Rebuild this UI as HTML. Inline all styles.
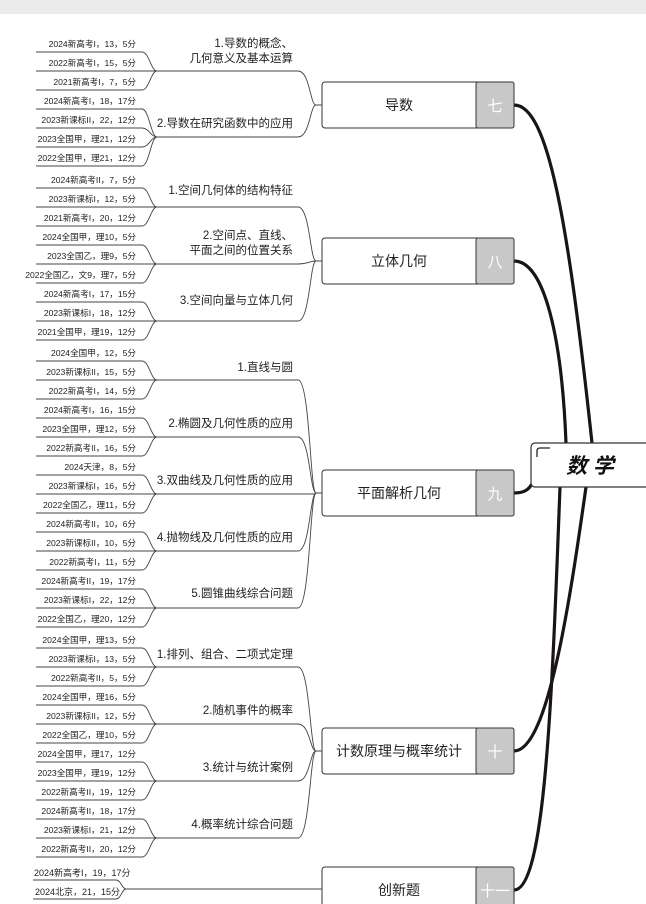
<!DOCTYPE html>
<html><head><meta charset="utf-8"><style>
html,body{margin:0;padding:0;background:#fff;}
svg{display:block;font-family:"Liberation Sans","Noto Sans CJK SC",sans-serif;}
.lf{font-size:8.6px;fill:#222;text-anchor:end;}
.sb{font-size:11.5px;fill:#222;text-anchor:end;}
.ln{fill:none;stroke:#444;stroke-width:0.9;}
.tk{fill:none;stroke:#1a1412;stroke-width:3.2;}
.bx{fill:#fff;stroke:#333;stroke-width:1;}
.gr{fill:#c8c8c8;stroke:#333;stroke-width:1;}
.mt{font-size:14px;fill:#222;text-anchor:middle;}
.gt{font-size:15px;fill:#fff;text-anchor:middle;}
</style></head><body>
<svg width="646" height="904" viewBox="0 0 646 904" xmlns="http://www.w3.org/2000/svg">
<rect x="0" y="0" width="646" height="14" fill="#ebebeb"/>

<path class="tk" d="M514,105 C548,105 568,220 592,443"/>
<path class="tk" d="M514,261 C545,261 562,340 566,443"/>
<path class="tk" d="M514,493 C524,493 529,490 533,482"/>
<path class="tk" d="M514,751 C548,751 570,600 586,487"/>
<path class="tk" d="M514,890 C545,890 552,700 560,487"/>

<g class="ln">
<path d="M36,52 H142 C149,52 151,71 157,71"/><path d="M36,71 H157"/><path d="M36,90 H142 C149,90 151,71 157,71"/>
<path d="M157,71 H298 C310,71 310,105 316,105 H322"/>
<path d="M36,109 H142 C149,109 151,137 157,137"/><path d="M36,128 H142 C149,128 151,137 157,137"/><path d="M36,147 H142 C149,147 151,137 157,137"/><path d="M36,166 H142 C149,166 151,137 157,137"/>
<path d="M157,137 H298 C310,137 310,105 316,105"/>
</g>
<text class="lf" x="136" y="47">2024新高考I，13，5分</text>
<text class="lf" x="136" y="66">2022新高考I，15，5分</text>
<text class="lf" x="136" y="85">2021新高考I，7，5分</text>
<text class="lf" x="136" y="104">2024新高考I，18，17分</text>
<text class="lf" x="136" y="123">2023新课标II，22，12分</text>
<text class="lf" x="136" y="142">2023全国甲，理21，12分</text>
<text class="lf" x="136" y="161">2022全国甲，理21，12分</text>
<text class="sb" x="293" y="47">1.导数的概念、</text>
<text class="sb" x="293" y="62">几何意义及基本运算</text>
<text class="sb" x="293" y="127">2.导数在研究函数中的应用</text>

<g class="ln">
<path d="M36,188 H142 C149,188 151,207 157,207"/><path d="M36,207 H157"/><path d="M36,226 H142 C149,226 151,207 157,207"/>
<path d="M157,207 H298 C310,207 310,261 316,261 H322"/>
<path d="M36,245 H142 C149,245 151,264 157,264"/><path d="M36,264 H157"/><path d="M36,283 H142 C149,283 151,264 157,264"/>
<path d="M157,264 H298 C308,264 310,261 316,261"/>
<path d="M36,302 H142 C149,302 151,321 157,321"/><path d="M36,321 H157"/><path d="M36,340 H142 C149,340 151,321 157,321"/>
<path d="M157,321 H298 C310,321 310,261 316,261"/>
</g>
<text class="lf" x="136" y="183">2024新高考II，7，5分</text>
<text class="lf" x="136" y="202">2023新课标I，12，5分</text>
<text class="lf" x="136" y="221">2021新高考I，20，12分</text>
<text class="lf" x="136" y="240">2024全国甲，理10，5分</text>
<text class="lf" x="136" y="259">2023全国乙，理9，5分</text>
<text class="lf" x="136" y="278">2022全国乙，文9，理7，5分</text>
<text class="lf" x="136" y="297">2024新高考I，17，15分</text>
<text class="lf" x="136" y="316">2023新课标I，18，12分</text>
<text class="lf" x="136" y="335">2021全国甲，理19，12分</text>
<text class="sb" x="293" y="194">1.空间几何体的结构特征</text>
<text class="sb" x="293" y="239">2.空间点、直线、</text>
<text class="sb" x="293" y="254">平面之间的位置关系</text>
<text class="sb" x="293" y="304">3.空间向量与立体几何</text>

<g class="ln">
<path d="M36,361 H142 C149,361 151,380 157,380"/><path d="M36,380 H157"/><path d="M36,399 H142 C149,399 151,380 157,380"/>
<path d="M157,380 H298 C310,380 310,493 316,493 H322"/>
<path d="M36,418 H142 C149,418 151,437 157,437"/><path d="M36,437 H157"/><path d="M36,456 H142 C149,456 151,437 157,437"/>
<path d="M157,437 H298 C310,437 310,493 316,493"/>
<path d="M36,475 H142 C149,475 151,494 157,494"/><path d="M36,494 H157"/><path d="M36,513 H142 C149,513 151,494 157,494"/>
<path d="M157,494 H316"/>
<path d="M36,532 H142 C149,532 151,551 157,551"/><path d="M36,551 H157"/><path d="M36,570 H142 C149,570 151,551 157,551"/>
<path d="M157,551 H298 C310,551 310,493 316,493"/>
<path d="M36,589 H142 C149,589 151,608 157,608"/><path d="M36,608 H157"/><path d="M36,627 H142 C149,627 151,608 157,608"/>
<path d="M157,608 H298 C310,608 310,493 316,493"/>
</g>
<text class="lf" x="136" y="356">2024全国甲，12，5分</text>
<text class="lf" x="136" y="375">2023新课标II，15，5分</text>
<text class="lf" x="136" y="394">2022新高考I，14，5分</text>
<text class="lf" x="136" y="413">2024新高考I，16，15分</text>
<text class="lf" x="136" y="432">2023全国甲，理12，5分</text>
<text class="lf" x="136" y="451">2022新高考II，16，5分</text>
<text class="lf" x="136" y="470">2024天津，8，5分</text>
<text class="lf" x="136" y="489">2023新课标I，16，5分</text>
<text class="lf" x="136" y="508">2022全国乙，理11，5分</text>
<text class="lf" x="136" y="527">2024新高考II，10，6分</text>
<text class="lf" x="136" y="546">2023新课标II，10，5分</text>
<text class="lf" x="136" y="565">2022新高考I，11，5分</text>
<text class="lf" x="136" y="584">2024新高考II，19，17分</text>
<text class="lf" x="136" y="603">2023新课标I，22，12分</text>
<text class="lf" x="136" y="622">2022全国乙，理20，12分</text>
<text class="sb" x="293" y="371">1.直线与圆</text>
<text class="sb" x="293" y="427">2.椭圆及几何性质的应用</text>
<text class="sb" x="293" y="484">3.双曲线及几何性质的应用</text>
<text class="sb" x="293" y="541">4.抛物线及几何性质的应用</text>
<text class="sb" x="293" y="597">5.圆锥曲线综合问题</text>

<g class="ln">
<path d="M36,648 H142 C149,648 151,667 157,667"/><path d="M36,667 H157"/><path d="M36,686 H142 C149,686 151,667 157,667"/>
<path d="M157,667 H298 C310,667 310,751 316,751 H322"/>
<path d="M36,705 H142 C149,705 151,724 157,724"/><path d="M36,724 H157"/><path d="M36,743 H142 C149,743 151,724 157,724"/>
<path d="M157,724 H298 C310,724 310,751 316,751"/>
<path d="M36,762 H142 C149,762 151,781 157,781"/><path d="M36,781 H157"/><path d="M36,800 H142 C149,800 151,781 157,781"/>
<path d="M157,781 H298 C310,781 310,751 316,751"/>
<path d="M36,819 H142 C149,819 151,838 157,838"/><path d="M36,838 H157"/><path d="M36,857 H142 C149,857 151,838 157,838"/>
<path d="M157,838 H298 C310,838 310,751 316,751"/>
</g>
<text class="lf" x="136" y="643">2024全国甲，理13，5分</text>
<text class="lf" x="136" y="662">2023新课标I，13，5分</text>
<text class="lf" x="136" y="681">2022新高考II，5，5分</text>
<text class="lf" x="136" y="700">2024全国甲，理16，5分</text>
<text class="lf" x="136" y="719">2023新课标II，12，5分</text>
<text class="lf" x="136" y="738">2022全国乙，理10，5分</text>
<text class="lf" x="136" y="757">2024全国甲，理17，12分</text>
<text class="lf" x="136" y="776">2023全国甲，理19，12分</text>
<text class="lf" x="136" y="795">2022新高考II，19，12分</text>
<text class="lf" x="136" y="814">2024新高考II，18，17分</text>
<text class="lf" x="136" y="833">2023新课标I，21，12分</text>
<text class="lf" x="136" y="852">2022新高考II，20，12分</text>
<text class="sb" x="293" y="658">1.排列、组合、二项式定理</text>
<text class="sb" x="293" y="714">2.随机事件的概率</text>
<text class="sb" x="293" y="771">3.统计与统计案例</text>
<text class="sb" x="293" y="828">4.概率统计综合问题</text>

<g class="ln">
<path d="M33,880 H116 C121,880 122,889 126,889"/><path d="M33,899 H116 C121,899 122,889 126,889"/>
<path d="M126,889 H322"/>
</g>
<text style="font-size:9px;fill:#222" x="34" y="876">2024新高考I，19，17分</text>
<text style="font-size:9px;fill:#222" x="35" y="895">2024北京，21，15分</text>

<rect class="bx" x="322" y="82" width="192" height="46" rx="3"/>
<rect class="gr" x="476" y="82" width="38" height="46" rx="2"/>
<text class="mt" x="399" y="110">导数</text><text class="gt" x="495" y="111">七</text>

<rect class="bx" x="322" y="238" width="192" height="46" rx="3"/>
<rect class="gr" x="476" y="238" width="38" height="46" rx="2"/>
<text class="mt" x="399" y="266">立体几何</text><text class="gt" x="495" y="267">八</text>

<rect class="bx" x="322" y="470" width="192" height="46" rx="3"/>
<rect class="gr" x="476" y="470" width="38" height="46" rx="2"/>
<text class="mt" x="399" y="498">平面解析几何</text><text class="gt" x="495" y="499">九</text>

<rect class="bx" x="322" y="728" width="192" height="46" rx="3"/>
<rect class="gr" x="476" y="728" width="38" height="46" rx="2"/>
<text class="mt" x="399" y="756">计数原理与概率统计</text><text class="gt" x="495" y="757">十</text>

<rect class="bx" x="322" y="867" width="192" height="46" rx="3"/>
<rect class="gr" x="476" y="867" width="38" height="46" rx="2"/>
<text class="mt" x="399" y="895">创新题</text><text class="gt" x="495" y="896">十一</text>

<rect x="531" y="443" width="125" height="44" rx="4" fill="#fff" stroke="#333" stroke-width="1.2"/>
<path d="M537,457 V451 Q537,448 540,448 H550" fill="none" stroke="#222" stroke-width="1.3"/>
<text x="590" y="473" text-anchor="middle" style="font-size:21px;font-weight:bold;font-style:italic;fill:#111">数 学</text>
</svg>
</body></html>
